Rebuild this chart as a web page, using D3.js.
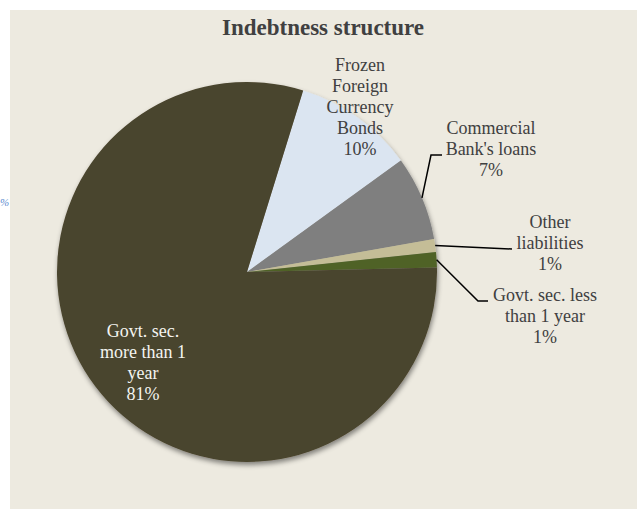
<!DOCTYPE html>
<html>
<head>
<meta charset="utf-8">
<script src="https://cdn.jsdelivr.net/npm/d3@7"></script>
<style>
  body { margin: 0; background: #fff; }
  text { font-family: "Liberation Serif", "Times New Roman", serif; }
</style>
</head>
<body>
<div id="content"></div>
<script>
// Set up canvas
var width = 637, height = 509;

// data, in drawing order (clockwise from the first slice)
var categories = ["Frozen\nForeign\nCurrency\nBonds", "Commercial\nBank's loans", "Other\nliabilities",
                  "Govt. sec. less\nthan 1 year", "Govt. sec.\nmore than 1\nyear"];
var shares = [10.25, 7.2, 1.1, 1.3, 80.15];
var pctLabels = ["10%", "7%", "1%", "1%", "81%"];
var colors = ["#dbe5f1", "#7f7f7f", "#c4bd97", "#4f6228", "#4a442d"];

// layout of the labels (first baseline) and leader lines
var labelPos = [[360, 71], [491, 134], [550, 228], [545, 301], [143, 337]];
var leaders = [null, [[431, 155], [442, 155]], [[512, 249], [512, 249]], [[478, 301], [488, 301]], null];
var lineH = 21;

var cx = 247, cy = 272, radius = 190;
var start = 17.2 * Math.PI / 180;

var svg = d3.select("#content")
    .append("svg")
    .attr("width", width)
    .attr("height", height);

// drop shadow for the pie
var defs = svg.append("defs");
var f = defs.append("filter").attr("id", "shadow")
    .attr("x", "-10%").attr("y", "-10%").attr("width", "120%").attr("height", "125%");
f.append("feDropShadow")
    .attr("dx", 1).attr("dy", 3).attr("stdDeviation", 2.5)
    .attr("flood-color", "#000").attr("flood-opacity", 0.45);

// chart area
svg.append("rect")
    .attr("x", 10).attr("y", 10)
    .attr("width", width - 10).attr("height", height - 10)
    .attr("fill", "#edeae0");

// fragment of the page text at the left edge
svg.append("text")
    .attr("x", 0).attr("y", 206)
    .style("font-size", "11px")
    .style("font-style", "italic")
    .attr("fill", "#5b8bd0")
    .text("%");

svg.append("text")
    .attr("x", 323).attr("y", 35)
    .attr("text-anchor", "middle")
    .style("font-size", "23px")
    .style("font-weight", "bold")
    .attr("fill", "#404040")
    .text("Indebtness structure");

var pie = d3.pie()
    .sort(null)
    .value(function(d) { return d; })
    .startAngle(start)
    .endAngle(start + 2 * Math.PI);

var arcs = pie(shares);

var arc = d3.arc()
    .innerRadius(0)
    .outerRadius(radius);

var g = svg.append("g")
    .attr("transform", "translate(" + cx + "," + cy + ")");

g.append("g")
    .attr("filter", "url(#shadow)")
    .selectAll("path")
    .data(arcs)
    .enter()
    .append("path")
    .attr("d", arc)
    .attr("fill", function(d, i) { return colors[i]; });

// leader lines, from the slice edge at mid angle
arcs.forEach(function(d, i) {
    if (!leaders[i]) return;
    var mid = (d.startAngle + d.endAngle) / 2;
    var p0 = [cx + radius * Math.sin(mid), cy - radius * Math.cos(mid)];
    svg.append("path")
        .attr("d", d3.line()([p0, leaders[i][0], leaders[i][1]]))
        .attr("fill", "none")
        .attr("stroke", "#000")
        .attr("stroke-width", 1.5);
});

// labels
arcs.forEach(function(d, i) {
    var lines = categories[i].split("\n").concat([pctLabels[i]]);
    var t = svg.append("text")
        .attr("text-anchor", "middle")
        .style("font-size", "18px")
        .attr("fill", i == 4 ? "#f4f4f0" : "#404040");
    lines.forEach(function(s, k) {
        t.append("tspan")
            .attr("x", labelPos[i][0])
            .attr("y", labelPos[i][1] + k * lineH)
            .text(s);
    });
});
</script>
</body>
</html>
